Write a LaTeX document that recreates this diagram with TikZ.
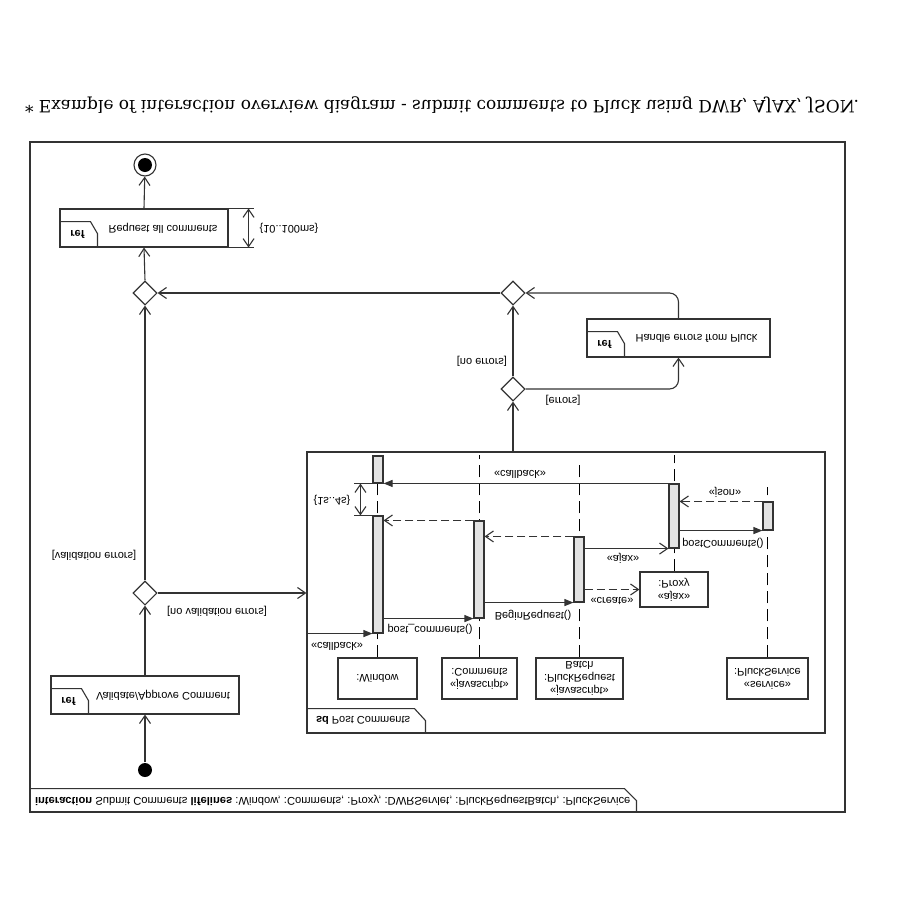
\documentclass[tikz,border=0pt]{standalone}
\usepackage{fontspec}
\setmainfont{Liberation Sans}
\newfontfamily\titlefont{DejaVu Serif}
\usetikzlibrary{arrows.meta, shapes.geometric, calc, backgrounds}

\begin{document}
\begin{tikzpicture}[
    x=1pt, y=1pt, yscale=-1, transform shape,
    >={Straight Barb[length=8pt, width=11pt]},
    line width=1.1pt, draw=black!80,
    every node/.style={font=\fontsize{11}{13}\selectfont, inner sep=0pt},
    refbox/.style={draw, minimum height=38pt},
    headbox/.style={draw, minimum height=41pt, align=center},
    bar/.style={draw, fill=gray!22, minimum width=10pt},
    choice/.style={diamond, draw, minimum size=24pt},
    msg/.style={-{Triangle[length=9pt, width=7pt]}},
    reply/.style={->, dash pattern=on 8pt off 4pt},
    lifeline/.style={dash pattern=on 12pt off 6pt}
]
\useasboundingbox (0,0) rectangle (900,900);

\node[font=\titlefont\fontsize{17}{20}\selectfont] (title) at (442,105)
    {* Example of interaction overview diagram - submit comments to Pluck using DWR, AJAX, JSON.};

% outer interaction frame
\node[draw, minimum width=815pt, minimum height=670pt] (fr) at (437.5,477) {};
\draw ($(fr.north west)+(0,-24)$) -- ++(595,0) -- ++(12,12) -- ++(0,12);
\node[anchor=west, font=\fontsize{11.2}{13}\selectfont] (frlabel) at ($(fr.north west)+(5,-12)$)
    {\textbf{interaction} Submit Comments \textbf{lifelines} :Window, :Comments, :Proxy, :DWRServlet, :PluckRequestBatch, :PluckService};

% activity flow
\node[circle, fill=black, minimum size=14pt] (ini) at (145,770) {};
\node[refbox, minimum width=188pt] (va) at (145,695) {};
\node (vatext) at ($(va.center)+(18,0)$) {Validate/Approve Comment};
\draw ($(va.north west)+(0,-26)$) -- ++(31,0) -- ++(7,12) -- ++(0,14);
\node[font=\fontsize{11}{13}\selectfont\bfseries] (varef) at ($(va.north west)+(18,-13)$) {ref};

\node[choice] (d1) at (145,593) {};
\node[choice] (m1) at (145,293) {};

\node[refbox, minimum width=168pt] (rq) at (144,228) {};
\node (rqtext) at ($(rq.center)+(19,0)$) {Request all comments};
\draw ($(rq.north west)+(0,-26)$) -- ++(31,0) -- ++(7,12) -- ++(0,14);
\node[font=\fontsize{11}{13}\selectfont\bfseries] (rqref) at ($(rq.north west)+(18,-13)$) {ref};
\draw (rq.north east) -- ++(25,0);
\draw (rq.south east) -- ++(25,0);
\draw[<->] ($(rq.north east)+(20,0)$) -- ($(rq.south east)+(20,0)$);
\node (rqtime) at (289,228) {\{10..100ms\}};

\node[circle, draw, minimum size=22pt] (fin) at (145,165) {};
\node[circle, fill=black, minimum size=14pt] (finin) at (fin) {};

\node[choice] (m2) at (513,293) {};
\node[choice] (d3) at (513,389) {};

\node[refbox, minimum width=183pt] (hb) at (678.5,338) {};
\node (hbtext) at ($(hb.center)+(18,0)$) {Handle errors from Pluck};
\draw ($(hb.north west)+(0,-26)$) -- ++(31,0) -- ++(7,12) -- ++(0,14);
\node[font=\fontsize{11}{13}\selectfont\bfseries] (hbref) at ($(hb.north west)+(18,-13)$) {ref};

\draw[->] (ini) -- (va.north);
\draw[->] (va.south) -- (d1.north);
\draw[->] (d1.south) -- (m1.north);
\draw[->] (m1.south) -- (rq.north);
\draw[->] (rq.south) -- (fin);
\draw[->] (m2.west) -- (m1.east);
\draw[->] (d3.south) -- (m2.north);
\draw[->, rounded corners=9pt] (d3.east) -| (hb.north);
\draw[->, rounded corners=9pt] (hb.south) |- (m2.east);

\node (l1) at (94,555) {[validation errors]};
\node (l2) at (217,611) {[no validation errors]};
\node (l3) at (482,361) {[no errors]};
\node (l4) at (563,400) {[errors]};

% sequence fragment
\node[draw, minimum width=518pt, minimum height=281pt] (sd) at (566,592.5) {};
\draw ($(sd.north west)+(0,-25)$) -- ++(108,0) -- ++(11,12) -- ++(0,13);
\node[anchor=west] (sdlabel) at ($(sd.north west)+(9,-13)$) {\textbf{sd} Post Comments};
\draw[->] (d1.east) -- (d1.east -| sd.west);
\draw[->] (d3.north |- sd.south) -- (d3.north);

\node[headbox, minimum width=79pt] (wn) at (377.5,678.5) {:Window};
\node[headbox, minimum width=75pt] (cn) at (479.5,678.5) {«javascript»\\:Comments};
\node[headbox, minimum width=87pt] (bn) at (579.5,678.5) {«javascript»\\:PluckRequest\\Batch};
\node[headbox, minimum width=81pt] (sn) at (767.5,678.5) {«service»\\:PluckService};
\node[draw, minimum width=68pt, minimum height=35pt, align=center] (px) at (674,589.5) {«ajax»\\:Proxy};

\node[bar, minimum height=27pt] (w1) at (378,469.5) {};
\node[bar, minimum height=117pt] (w2) at (378,574.5) {};
\node[bar, minimum height=97pt] (c1) at (479,569.5) {};
\node[bar, minimum height=65pt] (b1) at (579,569.5) {};
\node[bar, minimum height=64pt] (p1) at (674,516) {};
\node[bar, minimum height=28pt] (s1) at (768,516) {};

\begin{scope}[on background layer]
\draw[lifeline] (wn.south) -- (wn.south |- w1.south);
\draw[lifeline] (cn.south) -- (cn.south |- w1.south);
\draw[lifeline] ($(bn.south)+(-0.5,0)$) -- ($(bn.south |- w1.south)+(-0.5,6)$);
\draw[lifeline] (px.south) -- (px.south |- w1.south);
\draw[lifeline] (sn.south) -- ($(sn.south |- s1.south)+(0,-14)$);
\end{scope}

\draw[msg] (w2.north west -| sd.west) -- (w2.north west);
\draw[msg] (w2.east |- c1.north) -- (c1.north west);
\draw[msg] (c1.east |- b1.north) -- (b1.north west);
\draw[reply] (b1.east |- px.west) -- (px.west);
\draw[->] (b1.east |- p1.north) -- (p1.north west);
\draw[reply] (b1.south west) -- (c1.east |- b1.south);
\draw[msg] (p1.east |- s1.north) -- (s1.north west);
\draw[reply] (c1.south west) -- (w2.east |- c1.south);
\draw[reply] (s1.south west) -- (p1.east |- s1.south);
\draw[msg] (p1.south west) -- (p1.south west -| w1.east);

\draw (w1.north west) -- ++(-18,0);
\draw (w2.south west) -- ++(-18,0);
\draw[<->] ($(w1.north west)+(-12,0)$) -- ($(w2.south west)+(-12,0)$);
\node (wtime) at (332,500) {\{1s..4s\}};

\node (m01) at (337,646) {«callback»};
\node (m02) at (430,629) {post\_comments()};
\node (m03) at (533,615) {BeginRequest()};
\node (m04) at (612,601) {«create»};
\node (m05) at (623,558) {«ajax»};
\node (m06) at (723,543) {postComments()};
\node (m07) at (725,492) {«json»};
\node (m08) at (520,474) {«callback»};
\end{tikzpicture}
\end{document}
